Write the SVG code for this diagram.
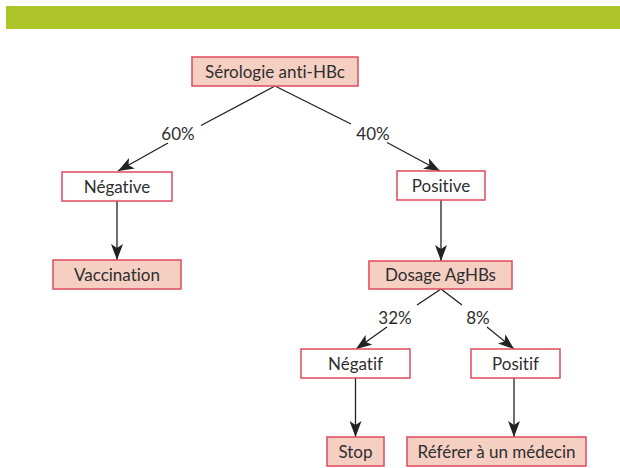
<svg xmlns="http://www.w3.org/2000/svg" width="620" height="468" viewBox="0 0 620 468">
  <style>
    .box { stroke: #e04a5c; stroke-width: 1.5; }
    .fill { fill: #f6cfc3; }
    .plain { fill: #ffffff; }
    .t { font-family: Lato, "Open Sans", "Liberation Sans", sans-serif; font-size: 17px; fill: #2e2e2e; text-anchor: middle; font-variant-ligatures: none; }
    .edge { stroke: #222222; stroke-width: 1.3; fill: none; }
    .arr { marker-end: url(#ah); }
  </style>
  <defs>
    <marker id="ah" viewBox="0 0 16 12" refX="16" refY="6" markerWidth="16" markerHeight="12" markerUnits="userSpaceOnUse" orient="auto">
      <path d="M0,0 L16,6 L0,12 L4,6 z" fill="#222222"/>
    </marker>
  </defs>
  <rect x="6" y="6" width="614" height="23" fill="#aec52a"/>
  <g id="connectors">
    <line class="edge" x1="275" y1="86" x2="201" y2="125.5"/>
    <line class="edge arr" x1="168" y1="143" x2="118" y2="171"/>
    <text class="t" x="178" y="139.5">60%</text>
    <line class="edge" x1="275" y1="86" x2="351" y2="124"/>
    <line class="edge arr" x1="387" y1="142.5" x2="440" y2="171"/>
    <text class="t" x="373" y="139.5">40%</text>
    <line class="edge arr" x1="117" y1="201" x2="117" y2="260"/>
    <line class="edge arr" x1="441" y1="200" x2="441" y2="261"/>
    <line class="edge" x1="441" y1="289" x2="417" y2="305"/>
    <line class="edge arr" x1="387" y1="327" x2="356" y2="349"/>
    <text class="t" x="395" y="323.5">32%</text>
    <line class="edge" x1="441" y1="289" x2="462" y2="305"/>
    <line class="edge arr" x1="487" y1="327" x2="514" y2="349"/>
    <text class="t" x="478" y="323.5">8%</text>
    <line class="edge arr" x1="355.5" y1="378" x2="355.5" y2="437"/>
    <line class="edge arr" x1="514" y1="378" x2="514" y2="437"/>
  </g>
  <g id="n1"><rect class="box fill" x="192" y="57" width="166" height="29"/><text class="t" x="275" y="77.5">Sérologie anti-HBc</text></g>
  <g id="n2"><rect class="box plain" x="62" y="172" width="110" height="29"/><text class="t" x="117" y="192.5">Négative</text></g>
  <g id="n3"><rect class="box fill" x="53" y="260" width="128" height="29"/><text class="t" x="117" y="280.5">Vaccination</text></g>
  <g id="n4"><rect class="box plain" x="397" y="171" width="88" height="29"/><text class="t" x="441" y="191.5">Positive</text></g>
  <g id="n5"><rect class="box fill" x="369" y="261" width="143" height="28"/><text class="t" x="440.5" y="281">Dosage AgHBs</text></g>
  <g id="n6"><rect class="box plain" x="301" y="349" width="109" height="29"/><text class="t" x="355.5" y="369.5">Négatif</text></g>
  <g id="n7"><rect class="box plain" x="471" y="349" width="89" height="29"/><text class="t" x="515.5" y="369.5">Positif</text></g>
  <g id="n8"><rect class="box fill" x="327" y="437" width="57" height="29"/><text class="t" x="355.5" y="457.5">Stop</text></g>
  <g id="n9"><rect class="box fill" x="407" y="437" width="179" height="29"/><text class="t" x="496.5" y="457.5">Référer à un médecin</text></g>
</svg>
